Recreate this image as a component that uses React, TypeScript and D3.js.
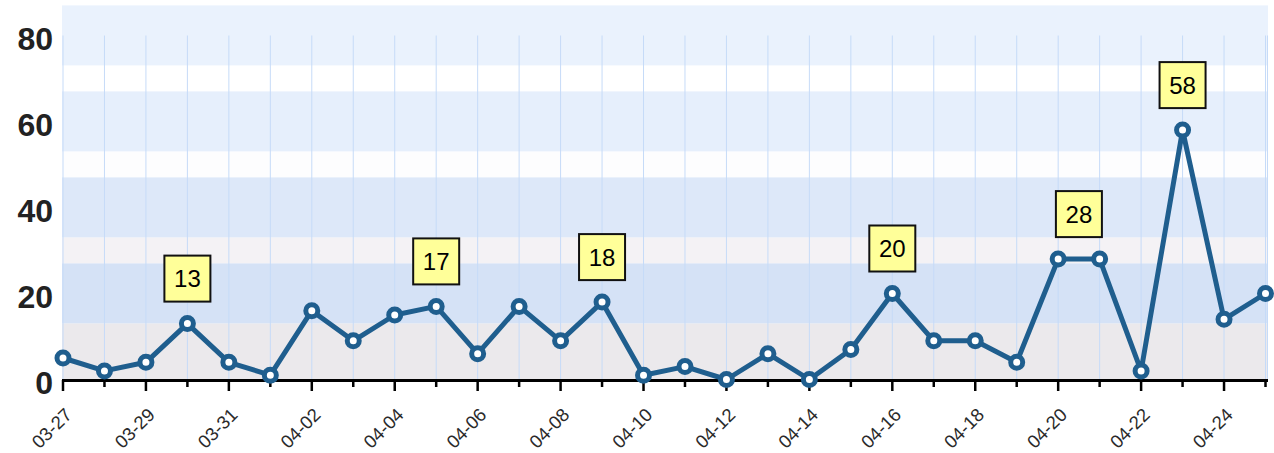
import React from "react";
import * as d3 from "d3";

const dates = [
  "03-27","03-28","03-29","03-30","03-31","04-01","04-02","04-03","04-04","04-05",
  "04-06","04-07","04-08","04-09","04-10","04-11","04-12","04-13","04-14","04-15",
  "04-16","04-17","04-18","04-19","04-20","04-21","04-22","04-23","04-24","04-25",
];
const values = [5, 2, 4, 13, 4, 1, 16, 9, 15, 17, 6, 17, 9, 18, 1, 3, 0, 6, 0, 7, 20, 9, 9, 4, 28, 28, 2, 58, 14, 20];
// labels: [start index, end index] of the labelled peak (plateau)
const peakLabels: [number, number][] = [[3, 3], [9, 9], [13, 13], [20, 20], [24, 25], [27, 27]];
const yTicks = [0, 20, 40, 60, 80];
// horizontal background bands [from, to, colour]
const bands: [number, number, string][] = [
  [73, 87, "#eaf2fd"],
  [67, 73, "#ffffff"],
  [53, 67, "#e6effc"],
  [47, 53, "#fdfdfe"],
  [33, 47, "#dde8f9"],
  [27, 33, "#f4f2f5"],
  [13, 27, "#d5e2f6"],
  [0, 13, "#ebe9ec"],
];

const W = 1274;
const H = 453;
const LINE = "#1f5e8e";

export default function App() {
  const x = d3.scalePoint<string>().domain(dates).range([63, 1265.5]);
  const y = d3.scaleLinear().domain([0, 80]).range([379.5, 35.5]);
  const left = 62;
  const right = 1268;
  const line = d3
    .line<number>()
    .x((_, i) => x(dates[i]) as number)
    .y((d) => y(d));

  return (
    <svg
      width={W}
      height={H}
      style={{ position: "absolute", left: 0, top: 0, background: "#fff" }}
      fontFamily="'Liberation Sans', Arial, sans-serif"
    >
      {bands.map(([a, b, c], i) => (
        <rect key={i} x={left} width={right - left} y={y(b)} height={y(a) - y(b) + (a === 0 ? 1 : 0)} fill={c} />
      ))}
      {dates.map((d) => (
        <line key={d} x1={x(d)} x2={x(d)} y1={y(80)} y2={y(0)} stroke="#c6dbf8" strokeWidth={1} />
      ))}
      <line x1={right - 0.5} x2={right - 0.5} y1={y(80)} y2={y(0)} stroke="#c6dbf8" strokeWidth={1} />
      {yTicks.map((t) => (
        <text
          key={t}
          x={53}
          y={y(t) + 3}
          textAnchor="end"
          dominantBaseline="central"
          fontSize={32}
          fontWeight="bold"
          fill="#222"
        >
          {t}
        </text>
      ))}
      {dates.map((d, i) => (
        <line
          key={"t" + d}
          x1={x(d)}
          x2={x(d)}
          y1={380}
          y2={i % 2 === 0 ? 391 : 387}
          stroke="#000"
          strokeWidth={2.5}
        />
      ))}
      <line x1={left} x2={right} y1={380.5} y2={380.5} stroke="#000" strokeWidth={3} />
      {dates.map((d, i) =>
        i % 2 === 0 ? (
          <text
            key={"l" + d}
            transform={`translate(${(x(d) as number) + 10},${416}) rotate(-45)`}
            textAnchor="end"
            fontSize={18.5}
            fill="#2a2a2a"
          >
            {d}
          </text>
        ) : null
      )}
      <path d={line(values) || ""} fill="none" stroke={LINE} strokeWidth={5} strokeLinejoin="round" />
      {values.map((v, i) => (
        <circle key={"c" + i} cx={x(dates[i])} cy={y(v)} r={6} fill="#fff" stroke={LINE} strokeWidth={5} />
      ))}
      {peakLabels.map(([s, e]) => {
        const cx = ((x(dates[s]) as number) + (x(dates[e]) as number)) / 2;
        const v = values[s];
        const bottom = y(v) - 22;
        const size = 46;
        return (
          <g key={"p" + s}>
            <rect x={cx - size / 2} y={bottom - size} width={size} height={size} fill="#ffff99" stroke="#111" strokeWidth={2} />
            <text x={cx} y={bottom - size / 2} textAnchor="middle" dominantBaseline="central" fontSize={24} fill="#000">
              {v}
            </text>
          </g>
        );
      })}
    </svg>
  );
}
